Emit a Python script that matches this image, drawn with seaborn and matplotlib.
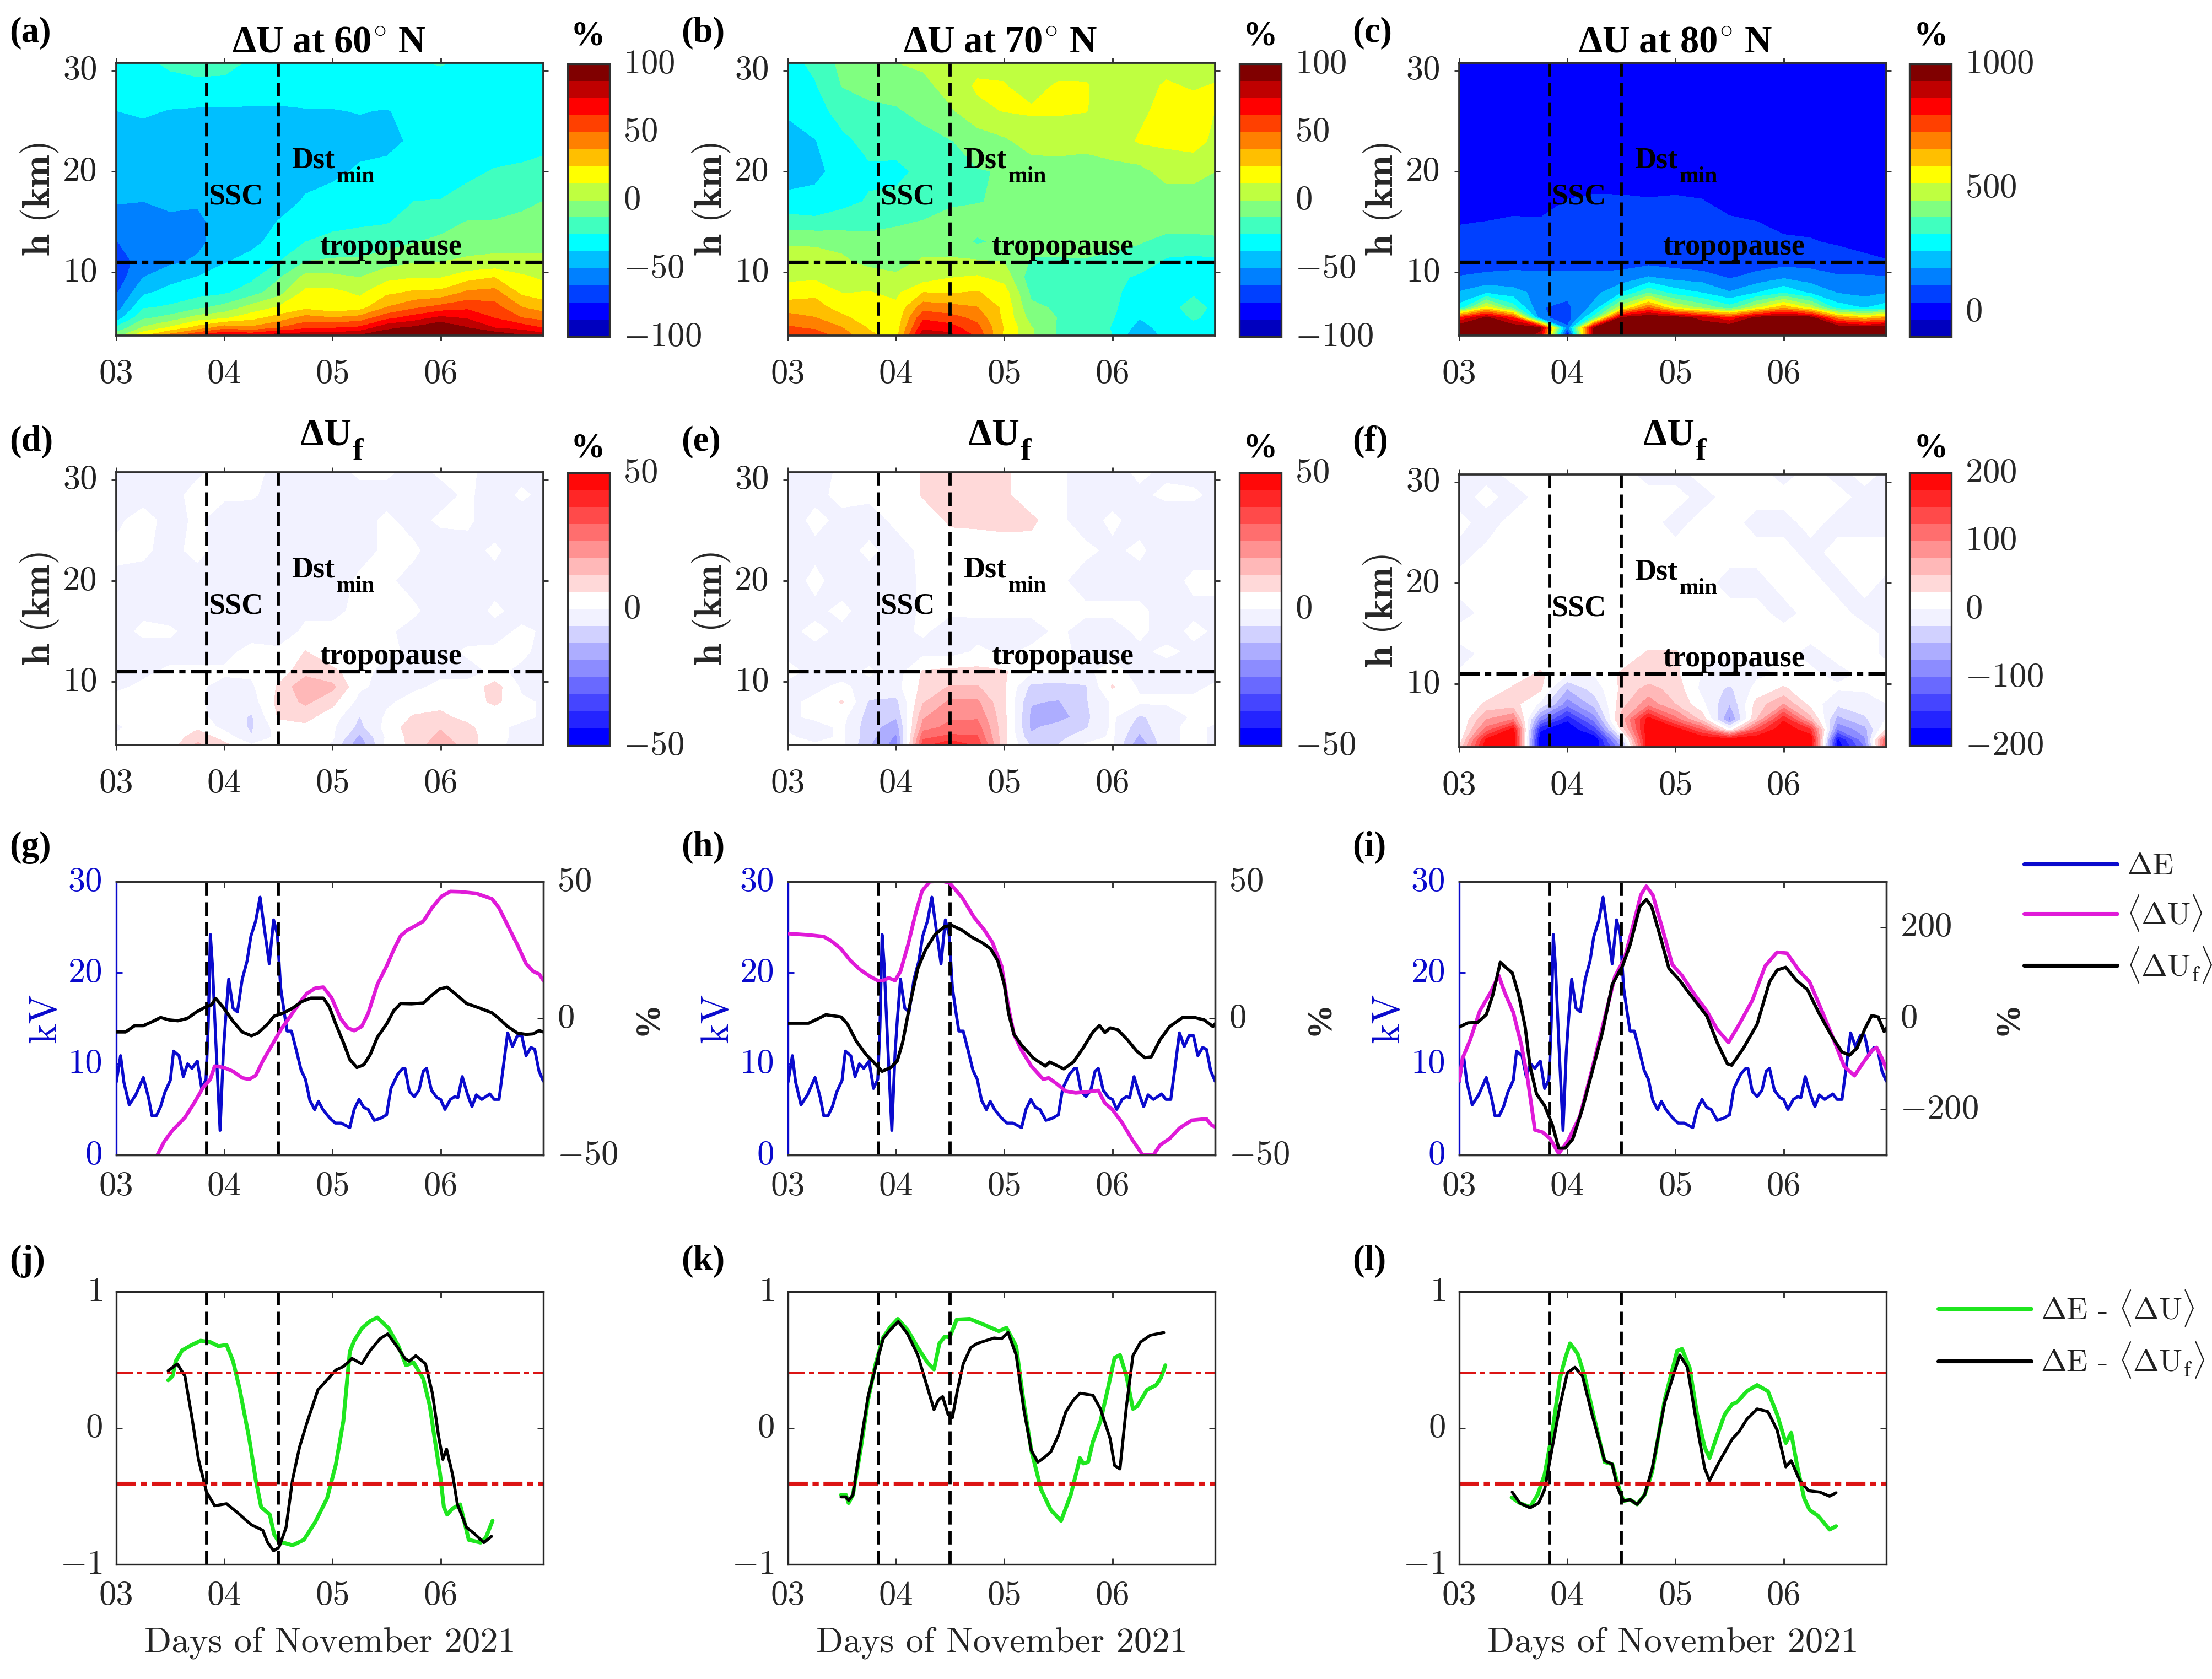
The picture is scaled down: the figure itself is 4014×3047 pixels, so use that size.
import numpy as np
import matplotlib
matplotlib.use('Agg')
import matplotlib.pyplot as plt
from matplotlib.transforms import ScaledTranslation
import seaborn as sns

sns.set_style('ticks')
plt.rcParams['font.family'] = ['cmr10', 'DejaVu Sans']
plt.rcParams['mathtext.fontset'] = 'cm'
plt.rcParams['axes.unicode_minus'] = False
plt.rcParams['axes.formatter.use_mathtext'] = True
plt.rcParams['text.color'] = '#202020'

W, H = 4014, 3047
BOLD = 'Liberation Serif'

# grid of the contour panels, one inner list per day position, bottom to top
days = [3.0, 3.25, 3.5, 3.75, 4.0, 4.25, 4.5, 4.75, 5.0, 5.25, 5.5, 5.75, 6.0, 6.25, 6.5, 6.75, 7.0]
heights = [3.7, 4.5, 5.5, 6.5, 8, 9.5, 11, 13, 15, 17, 20, 23, 26, 28.5, 30.8]

du60 = [
    [-5, -22, -45, -56, -64, -70, -72, -63, -56, -49, -45, -42, -37.5, -33, -30],
    [25, 2, -15, -26, -40, -50, -55, -56, -54, -50, -46, -42, -36, -31, -28],
    [45, 15, -8, -23, -33, -42, -52, -56, -53, -47, -44, -41, -38, -30, -22],
    [65, 30, 5, -15, -30, -37, -48, -53, -52, -49, -44, -42, -39, -28, -20],
    [80, 45, 10, -8, -27, -33, -38, -44, -46, -46, -45, -43, -39, -29, -20],
    [75, 40, 20, 5, -18, -28, -34, -40, -44, -46, -45, -43, -39, -31, -27],
    [85, 50, 30, 14, -5, -14, -25, -34, -37, -43, -46, -44, -39, -32, -27],
    [85, 60, 42, 22, 16, 4, -12, -25, -30, -36, -42, -42, -38, -33, -27],
    [85, 62, 38, 16, 16, 3, -10, -22, -28, -33, -40, -41, -38, -32, -27],
    [90, 65, 42, 20, 10, 0, -10, -20, -27, -32, -36, -41, -37, -31, -27],
    [95, 85, 58, 38, 22, 9, -5, -18, -26, -30, -35, -40, -38, -30, -27],
    [105, 90, 68, 48, 27, 12, -1, -13, -20, -25, -33, -36, -35, -30, -26],
    [115, 100, 78, 55, 28, 12, 0, -10, -17, -24, -36, -35, -33, -30, -24],
    [110, 88, 73, 60, 40, 20, 2, -5, -12, -20, -28, -34, -33, -30, -27],
    [100, 75, 62, 55, 42, 25, 3, -4, -12, -17, -24, -33, -32, -30, -28],
    [90, 70, 50, 38, 22, 15, 3, -4, -11, -14, -23, -30, -32, -30, -28],
    [80, 60, 45, 30, 18, 9, 2, -3, -9, -12, -21, -28, -32, -30, -26],
]
du70 = [
    [62, 52, 42, 32, 18, 10, 4, -1, -20, -33, -45, -44, -35, -30, -29],
    [58, 48, 38, 30, 22, 10, 3, -1, -22, -33, -41, -38, -30, -26, -22],
    [45, 38, 28, 20, 12, 6, 2, -3, -20, -28, -32, -28, -20, -12, -9],
    [28, 24, 18, 15, 13, 6, -3, -8, -17, -24, -27, -21, -15, -9, -4],
    [20, 18, 16, 15, 10, 2, -4, -8, -14, -22, -28, -20, -14, -6, 0],
    [85, 72, 60, 45, 25, 6, 2, -6, -12, -18, -22, -18, -8, -4, 3],
    [80, 68, 55, 42, 24, 12, 2, -6, -7, -15, -18, -13, -2, 6, 11],
    [60, 54, 46, 38, 26, 14, 2, -14, -8, -13, -13, -8, 10, 14, 9],
    [22, 24, 22, 22, 18, 8, 0, -10, -8, -11, -12, -2, 13, 13, 10],
    [2, 1, -5, -10, -15, -20, -14, -8, -6, -8, -6, 5, 14, 8, 6],
    [-14, -14, -13, -14, -20, -20, -14, -8, -6, -7, -5, 5, 14, 14, 6],
    [-13, -16, -13, -20, -21, -20, -14, -7, -7, -6, -6, 4, 13, 14, 5],
    [-25, -26, -24, -23, -22, -20, -14, -11, -8, -6, -3, 5, 8, 4, 4],
    [-50, -42, -37, -33, -31, -28, -16, -12, -8, -7, -4, 14, 9, 8, 6],
    [-33, -33, -30, -28, -32, -33, -28, -15, -9, -7, 5, 15, 18, 14, 8],
    [-32, -28, -24, -22, -26, -33, -30, -15, -9, -7, 5, 17, 18, 11, 8],
    [-33, -30, -28, -28, -30, -32, -28, -14, -9, -6, -1, 8, 11, 14, 6],
]
du80 = [
    [1000, 1000, 800, 270, 180, 110, 70, 50, 35, 15, 5, 5, 5, 5, 5],
    [1000, 1000, 950, 550, 230, 120, 80, 60, 38, 15, 5, 5, 5, 5, 5],
    [1000, 1000, 800, 350, 200, 125, 85, 65, 45, 18, 5, 5, 5, 5, 5],
    [900, 950, 130, 110, 150, 120, 85, 60, 42, 20, 5, 5, 5, 5, 5],
    [-40, 120, 60, 90, 125, 125, 75, 60, 50, 40, 10, 5, 5, 5, 5],
    [1000, 950, 350, 200, 150, 125, 75, 60, 50, 45, 15, 5, 5, 5, 5],
    [1000, 1000, 950, 500, 240, 130, 80, 65, 55, 45, 12, 5, 5, 5, 5],
    [1000, 1000, 1000, 720, 370, 180, 85, 55, 50, 42, 8, 5, 5, 5, 5],
    [1000, 1000, 980, 520, 280, 150, 75, 60, 55, 45, 10, 5, 5, 5, 5],
    [1000, 1000, 900, 430, 240, 140, 60, 58, 50, 40, 10, 5, 5, 5, 5],
    [1000, 1000, 800, 340, 180, 100, 60, 52, 45, 20, 5, 5, 5, 5, 5],
    [1000, 1000, 960, 500, 240, 130, 70, 50, 38, 12, 5, 5, 5, 5, 5],
    [1000, 1000, 1000, 640, 300, 165, 80, 45, 25, 8, 5, 5, 5, 5, 5],
    [1000, 1000, 970, 500, 230, 140, 80, 42, 20, 5, 5, 5, 5, 5, 5],
    [1000, 1000, 680, 280, 170, 115, 70, 30, 10, 5, 5, 5, 5, 5, 5],
    [1000, 970, 600, 240, 150, 115, 60, 10, 5, 5, 5, 5, 5, 5, 5],
    [1000, 1000, 680, 290, 175, 110, 40, 8, 5, 5, 5, 5, 5, 5, 5],
]
duf60 = [
    [1, 1, -1, 1, 2, -1, -1, -2, -2, -2, -1, 1, -1, -1, -2],
    [2, 2, 3, 2, 2, 1, -1, -2, 1, -1, -2, 1, 2, -2, -2],
    [3, 2, 2, 2, 2, 1, 1, -2, 1, -3, -3, -2, -2, -2, -2],
    [14, 10, 5, 2, 1, 1, 1, -2, -3, -4, -3, 2, 1, 2, -1],
    [8, 4, -2, -3, -3, -2, 1, -2, -3, -4, -4, -3, -3, 1, 2],
    [1, -6, -7, -7, -3, -1, 1, 2, -3, -4, -5, -4, -4, 1, 2],
    [1, 2, 3, 7, 8, 7, 3, 1, -3, -4, -5, -4, -4, -3, -2],
    [4, 6, 5, 8, 14, 18, 10, 6.5, 1, -1, -4, -4, -3, -3, -2],
    [-1, 1, 1, 3, 8, 14, 8, 1, 1, -1, -3, -3, -2, -3, -2],
    [-18, -14, -8, -6.5, -2, 1, 2, 1, 1, 1, 1, -2, -2, -2, 1],
    [2, 1, 2, 1, -1, -2, -2, 1, 1, 1, 1, 1, 1, -2, 1],
    [8, 9, 10, 7, 2, -1, -2, -1, -2, 1, -2, 1, -2, -2, -2],
    [18, 14, 12, 8, 4, 1, -1, -2, -3, -3, -3, -3, 1, -2, 1],
    [9, 9, 8, 4, 2, 2, -2, 1, -3, -3, -2, -2, 1, 1, 1],
    [2, 2, 1, 1, 8, 9, 1, 1, -2, 1, -2, 1, -3, -3, -2],
    [-3, -2, -1, 1, 1, -1, -1, 1, 1, -2, -2, -3, -3, 1, -2],
    [-3, -3, -2, -1, -1, -1, -1, -2, -1, -1, -1, -2, -2, -2, -2],
]
duf70 = [
    [1, 1, -1, -1, -1, -1, 1, -1, -1, -2, -2, -2, -2, -1, -1],
    [1, -2, -2, 1, 1, -1, -1, -1, 1, -1, 1, -1, 1, -1, -2],
    [1, 1, 1, 2, 7, 1, -2, -1, -1, 1, -2, -2, -1, 1, 1],
    [-12, -10, -10, -9, -7, -2, 1, -3, -2, -2, -2, 1, -2, 1, 1],
    [-22, -20, -16, -12, -8, -2, -3, -3, -2, -3, -3, -2, 1, 1, 1],
    [35, 30, 22, 18, 12, 8, 7, -2, 1, 1, 1, 1, 2, 7, 7],
    [45, 33, 27, 24, 20, 13, 8, -3, -3, 1, 1, 2, 7.5, 8, 8],
    [36, 32, 28, 24, 20, 13, 8, 1, -2, 1, 1, 2, 8, 8, 8],
    [8, 8, 8, 8, 7, 7, 7, -1, -2, 1, 1, 2, 9, 8, 8],
    [-7, -11, -14, -14, -12, -8, 1, 1, -2, 1, 1, 3, 8, 1, 1],
    [-6, -8, -9, -16, -13, -9, 1, 1, 1, 1, 1, 1, 1, 1, 1],
    [1, -3, -7, -8, -7, -7, -1, -1, -2, 1, -2, 1, -2, -2, -2],
    [1, 1, 1, 1, 1, 7, 2, -2, -2, 1, -2, -1, 1, -2, -2],
    [-18, -14, -10, -7, 1, -1, -2, -1, 1, 1, -2, 1, -2, -1, 1],
    [-1, -1, -1, -4, 1, -1, -2, 1, -2, -2, -2, -3, -3, 1, -1],
    [1, 1, 1, 1, 1, -1, -1, -1, 1, -1, 1, -2, -3, 1, -2],
    [-1, -1, -1, 1, 1, 1, -1, -1, -1, -1, 1, -2, -2, -2, -2],
]
duf80 = [
    [30, 8, -3, -3, 1, 1, 1, -3, 3, -3, 3, -3, 3, -4, -3],
    [200, 180, 110, 75, 30, 5, 1, 2, 3, 2, 3, 2, -4, 3, -3],
    [220, 200, 185, 100, 35, 30, 8, 2, 3, 3, 3, 2, 3, -4, 3],
    [-220, -210, -170, -90, -5, 30, 30, 3, 3, 2, 3, 3, 3, 3, 3],
    [-260, -240, -210, -170, -90, -50, 2, 3, 3, 3, 3, 3, 3, 3, 3],
    [-230, -200, -140, -90, -40, -15, 2, 3, 3, 2, 3, 3, 3, 2, 3],
    [-80, -40, 30, 60, 40, 30, 30, 3, 3, 2, 3, 3, 3, 3, 3],
    [250, 250, 220, 190, 90, 60, 30, 30, 3, 3, 3, 3, 3, 3, -3],
    [250, 230, 190, 110, 50, 40, 30, 30, 3, 3, 3, 3, -3, 3, -3],
    [250, 210, 120, 40, 6, -8, -3, 2, 3, 3, 3, 3, 3, -3, 3],
    [250, 190, 5, -80, -50, -30, -5, 2, 3, 3, -3, 3, 3, 3, 3],
    [250, 200, 130, 50, 35, 8, -5, 2, 3, 3, -3, 3, -3, 3, 3],
    [250, 230, 215, 170, 75, 30, 3, 3, 3, -3, 3, 3, -3, 3, -3],
    [230, 200, 150, 60, 15, 3, 2, -3, 3, 3, 3, -3, 3, 3, 3],
    [-230, -180, -100, -60, -20, 2, -3, 3, 3, 3, -3, 3, -3, 3, -3],
    [-100, -80, -60, -30, -10, 2, 2, 3, 3, -3, 3, 3, -3, -3, 3],
    [200, 180, 50, 10, 2, 2, 2, -3, -3, -3, -3, 3, -3, -3, -3],
]

# delta E, shared by panels g, h, i
de_day = [3.0, 3.04, 3.07, 3.12, 3.18, 3.25, 3.3, 3.33, 3.37, 3.41, 3.45, 3.5, 3.53, 3.58, 3.62, 3.66, 3.7, 3.75, 3.79,
          3.83, 3.85, 3.87, 3.89, 3.92, 3.96, 3.99, 4.01, 4.04, 4.08, 4.12, 4.165, 4.21, 4.245, 4.29, 4.33, 4.37, 4.415,
          4.455, 4.49, 4.52, 4.555, 4.58, 4.62, 4.665, 4.71, 4.75, 4.79, 4.835, 4.87, 4.91, 4.97, 5.025, 5.08, 5.16,
          5.2, 5.245, 5.29, 5.33, 5.385, 5.44, 5.5, 5.54, 5.605, 5.65, 5.67, 5.71, 5.755, 5.8, 5.84, 5.87, 5.915, 5.965,
          6.0, 6.04, 6.09, 6.13, 6.16, 6.2, 6.25, 6.29, 6.33, 6.38, 6.455, 6.495, 6.54, 6.58, 6.62, 6.665, 6.71, 6.75,
          6.79, 6.835, 6.87, 6.91, 6.95]
de_kv = [8.0, 10.9, 8.0, 5.5, 6.6, 8.5, 6.2, 4.3, 4.3, 5.3, 6.9, 8.2, 11.4, 10.9, 8.6, 10.0, 9.5, 10.3, 7.3,
         8.3, 14.0, 24.2, 20.7, 12.6, 2.7, 11.2, 14.7, 19.3, 16.1, 15.7, 19.3, 21.3, 24.0, 25.7, 28.3, 24.8, 21.0,
         25.8, 24.2, 18.4, 15.5, 13.6, 13.6, 11.5, 9.3, 8.3, 6.0, 4.98, 5.9, 5.0, 4.1, 3.5, 3.5, 3.0,
         5.0, 6.1, 5.2, 5.0, 3.8, 4.0, 4.4, 7.3, 8.9, 9.5, 9.5, 7.0, 6.4, 7.1, 9.2, 9.5, 7.1, 6.3,
         6.1, 5.0, 6.1, 6.4, 6.3, 8.6, 6.6, 5.3, 6.6, 6.1, 6.7, 6.1, 6.1, 9.7, 13.4, 11.9, 13.1, 13.1,
         10.9, 11.8, 11.6, 9.2, 8.1]

# panel g
g_u_day = [3.38, 3.445, 3.52, 3.635, 3.72, 3.805, 3.87, 3.91, 3.995, 4.08, 4.165, 4.23, 4.29, 4.355, 4.44, 4.525, 4.61,
           4.695, 4.76, 4.84, 4.915, 4.99, 5.075, 5.14, 5.2, 5.27, 5.33, 5.415, 5.5, 5.565, 5.63, 5.69, 5.755, 5.84, 5.92,
           6.01, 6.09, 6.18, 6.33, 6.475, 6.54, 6.62, 6.71, 6.79, 6.855, 6.91, 6.95]
g_u = [-50, -45, -41, -36.3, -31, -25.2, -22.3, -17.5, -18, -19.4, -21.8, -22.3, -20.9, -15.6, -9.8, -4, 0.8,
       5.6, 9, 11, 11.4, 7.6, -0.1, -3.5, -4.5, -3, 1.8, 12.4, 19.1, 25, 30.2, 32.2, 33.6, 35.5, 40.4,
       44.7, 46.4, 46.3, 45.7, 43.7, 40.4, 34, 26.9, 20, 17.2, 16.2, 13.9]
g_uf_day = [3.0, 3.085, 3.17, 3.25, 3.34, 3.41, 3.49, 3.57, 3.66, 3.74, 3.83, 3.88, 3.92, 3.995, 4.08, 4.165, 4.25, 4.31,
            4.4, 4.46, 4.55, 4.63, 4.715, 4.8, 4.915, 4.97, 5.03, 5.1, 5.16, 5.225, 5.29, 5.35, 5.415, 5.5, 5.565, 5.63,
            5.73, 5.84, 5.92, 5.99, 6.06, 6.135, 6.24, 6.35, 6.475, 6.54, 6.62, 6.71, 6.79, 6.855, 6.91, 6.95]
g_uf = [-5, -5, -2.7, -2.7, -1.1, 0.3, -0.6, -0.9, 0, 2.3, 4.2, 4.9, 7.3, 3.7, -1.1, -5, -6.4, -5.4,
        -2.1, 0.8, 2, 3.7, 6.1, 7.4, 7.4, 4.2, -2.1, -8.8, -15.1, -18, -17, -13.2, -6.9, -2.1, 2.7, 5.4,
        5.3, 5.6, 8.5, 10.7, 11.4, 9, 5.4, 3.9, 2, -0.1, -3, -5.4, -5.9, -5.7, -4.5, -5]

# panel h
h_u_day = [3.0, 3.19, 3.33, 3.4, 3.49, 3.58, 3.67, 3.76, 3.83, 3.88, 3.93, 3.99, 4.04, 4.11, 4.18, 4.24, 4.31, 4.43, 4.495,
           4.61, 4.72, 4.81, 4.89, 4.975, 5.04, 5.09, 5.16, 5.25, 5.36, 5.41, 5.48, 5.57, 5.66, 5.75, 5.87, 5.93, 6.0,
           6.09, 6.185, 6.28, 6.38, 6.44, 6.53, 6.62, 6.735, 6.87, 6.92, 6.95]
h_u = [31, 30.5, 29.9, 28.3, 25.4, 21, 17.7, 15.3, 13.8, 13.8, 14.8, 13.8, 17.2, 26.9, 38.4, 46.6, 50, 50.2, 49.5,
       44.2, 37, 32.6, 27.8, 19.1, 3.7, -5.9, -11.7, -17.5, -22.3, -21.8, -23.8, -26.7, -27.3, -27, -26.4, -31, -33.4,
       -38.2, -44.5, -50, -50, -46.4, -44, -40.2, -37.3, -36.8, -39.2, -39.7]
h_uf_day = [3.0, 3.19, 3.28, 3.35, 3.49, 3.55, 3.63, 3.72, 3.79, 3.87, 3.95, 4.01, 4.06, 4.13, 4.2, 4.27, 4.36, 4.45, 4.52,
            4.61, 4.7, 4.79, 4.875, 4.94, 5.0, 5.04, 5.09, 5.16, 5.27, 5.38, 5.42, 5.55, 5.64, 5.73, 5.82, 5.88, 5.93,
            5.98, 6.05, 6.14, 6.23, 6.3, 6.36, 6.44, 6.53, 6.65, 6.76, 6.85, 6.93, 6.95]
h_uf = [-1.8, -1.8, -0.1, 1.3, 0.5, -2.1, -8.3, -13.2, -16, -19.4, -18, -15.6, -8.8, 5.6, 18.2, 24.9, 30.7, 33.6, 33.9,
        32.2, 29.7, 27.8, 25.4, 21, 12.4, 1.8, -5.9, -9.8, -14.6, -17.5, -16, -18.5, -16, -10.8, -5, -2.6, -5.2,
        -3.5, -4.2, -7.9, -12.2, -14.4, -14.1, -7.9, -3, 0.3, 0.3, -0.6, -3, -2]

# panel i
i_u_day = [3.0, 3.03, 3.1, 3.19, 3.29, 3.365, 3.42, 3.5, 3.575, 3.63, 3.7, 3.77, 3.84, 3.92, 4.0, 4.115, 4.23, 4.35, 4.44,
           4.53, 4.6, 4.68, 4.73, 4.79, 4.88, 4.97, 5.06, 5.18, 5.29, 5.385, 5.49, 5.59, 5.71, 5.83, 5.94, 6.03, 6.15, 6.24,
           6.355, 6.445, 6.56, 6.655, 6.72, 6.815, 6.86, 6.91, 6.95]
i_u = [-137, -88, -48, 16, 57, 94, 57, 13, -59, -129, -245, -250, -264, -297, -271, -216, -111, 5, 92,
       132, 196, 271, 290, 271, 196, 118, 94, 51, 16, -24, -53, -13, 39, 115, 145, 143, 103, 80,
       16, -36, -105, -126, -103, -71, -64, -88, -111]
i_uf_day = [3.0, 3.08, 3.17, 3.25, 3.31, 3.38, 3.42, 3.49, 3.55, 3.61, 3.655, 3.715, 3.79, 3.86, 3.92, 3.98, 4.05, 4.14,
            4.23, 4.325, 4.415, 4.51, 4.58, 4.67, 4.73, 4.78, 4.86, 4.94, 5.03, 5.14, 5.29, 5.385, 5.48, 5.52, 5.63, 5.755,
            5.87, 5.94, 6.02, 6.12, 6.22, 6.33, 6.445, 6.54, 6.61, 6.68, 6.75, 6.815, 6.875, 6.93, 6.95]
i_uf = [-19, -10, -9, 8, 51, 123, 114, 100, 51, -19, -105, -166, -192, -233, -285, -285, -265, -198,
        -117, -30, 74, 115, 161, 245, 261, 245, 179, 109, 86, 51, 5, -53, -100, -103, -65, -13,
        80, 106, 112, 83, 63, 10, -39, -74, -81, -65, -24, 6, 3, -29, -21]

# panel j
j_u_day = [3.48, 3.52, 3.55, 3.61, 3.7, 3.78, 3.87, 3.945, 4.02, 4.08, 4.14, 4.23, 4.29, 4.34, 4.42, 4.46, 4.5, 4.63, 4.735,
           4.84, 4.95, 5.03, 5.1, 5.16, 5.2, 5.27, 5.35, 5.415, 5.52, 5.61, 5.68, 5.75, 5.84, 5.9, 5.945, 5.995, 6.03, 6.06,
           6.11, 6.18, 6.26, 6.37, 6.42, 6.48]
j_u = [0.35, 0.38, 0.49, 0.57, 0.61, 0.64, 0.63, 0.6, 0.61, 0.49, 0.29, -0.08, -0.38, -0.58, -0.635, -0.78, -0.83, -0.86, -0.82,
       -0.69, -0.515, -0.27, 0.05, 0.56, 0.64, 0.73, 0.785, 0.81, 0.73, 0.6, 0.46, 0.48, 0.36, 0.16, -0.08, -0.34, -0.58, -0.635,
       -0.59, -0.56, -0.82, -0.84, -0.8, -0.68]
j_uf_day = [3.48, 3.565, 3.635, 3.7, 3.76, 3.835, 3.91, 4.02, 4.12, 4.25, 4.355, 4.4, 4.455, 4.505, 4.57, 4.63, 4.695, 4.76,
            4.865, 4.97, 5.03, 5.1, 5.18, 5.27, 5.35, 5.44, 5.51, 5.585, 5.67, 5.71, 5.77, 5.86, 5.925, 5.98, 6.02, 6.055,
            6.11, 6.155, 6.24, 6.305, 6.4, 6.47]
j_uf = [0.42, 0.47, 0.38, 0.075, -0.23, -0.47, -0.57, -0.555, -0.62, -0.71, -0.75, -0.84, -0.9, -0.875, -0.73, -0.38, -0.14, 0.03,
        0.28, 0.37, 0.425, 0.45, 0.51, 0.47, 0.57, 0.655, 0.69, 0.61, 0.51, 0.49, 0.53, 0.47, 0.25, -0.055, -0.23, -0.155,
        -0.34, -0.56, -0.73, -0.77, -0.84, -0.795]

# panel k
k_u_day = [3.49, 3.535, 3.56, 3.6, 3.67, 3.74, 3.81, 3.88, 3.945, 4.015, 4.105, 4.2, 4.29, 4.35, 4.4, 4.45, 4.495, 4.56, 4.68,
           4.79, 4.95, 5.02, 5.11, 5.18, 5.25, 5.34, 5.43, 5.525, 5.615, 5.7, 5.73, 5.775, 5.82, 5.89, 5.96, 6.02, 6.07, 6.13,
           6.19, 6.23, 6.32, 6.405, 6.45, 6.49]
k_u = [-0.49, -0.49, -0.55, -0.49, -0.165, 0.205, 0.47, 0.665, 0.74, 0.8, 0.72, 0.59, 0.48, 0.43, 0.62, 0.67, 0.665, 0.795, 0.8,
       0.765, 0.71, 0.735, 0.6, 0.185, -0.165, -0.45, -0.6, -0.68, -0.49, -0.22, -0.26, -0.25, -0.1, 0.05, 0.295, 0.515, 0.535, 0.38,
       0.14, 0.16, 0.28, 0.315, 0.37, 0.46]
k_uf_day = [3.49, 3.535, 3.56, 3.6, 3.67, 3.74, 3.81, 3.88, 3.945, 4.02, 4.105, 4.2, 4.29, 4.35, 4.39, 4.43, 4.48, 4.52, 4.565,
            4.62, 4.69, 4.75, 4.905, 4.975, 5.035, 5.11, 5.18, 5.25, 5.31, 5.365, 5.43, 5.5, 5.57, 5.64, 5.7, 5.82, 5.89, 5.98,
            6.02, 6.07, 6.13, 6.19, 6.26, 6.35, 6.475]
k_uf = [-0.505, -0.505, -0.53, -0.49, -0.12, 0.23, 0.45, 0.655, 0.72, 0.78, 0.69, 0.535, 0.295, 0.135, 0.205, 0.23, 0.1, 0.075, 0.27,
        0.47, 0.59, 0.62, 0.66, 0.655, 0.7, 0.535, 0.14, -0.165, -0.25, -0.22, -0.175, -0.055, 0.12, 0.205, 0.255, 0.24, 0.14, -0.08,
        -0.275, -0.3, 0.16, 0.53, 0.63, 0.68, 0.7]

# panel l
l_u_day = [3.485, 3.56, 3.655, 3.725, 3.79, 3.86, 3.93, 3.98, 4.025, 4.095, 4.16, 4.255, 4.345, 4.415, 4.485, 4.52, 4.58, 4.645,
           4.715, 4.785, 4.9, 5.015, 5.06, 5.13, 5.2, 5.27, 5.315, 5.385, 5.455, 5.525, 5.57, 5.66, 5.755, 5.855, 5.94, 6.02, 6.07,
           6.125, 6.19, 6.24, 6.32, 6.425, 6.485]
l_u = [-0.51, -0.55, -0.58, -0.49, -0.34, -0.035, 0.36, 0.51, 0.62, 0.545, 0.38, 0.05, -0.25, -0.265, -0.46, -0.535, -0.525, -0.56,
       -0.49, -0.32, 0.205, 0.565, 0.58, 0.445, 0.1, -0.14, -0.22, -0.055, 0.1, 0.175, 0.19, 0.27, 0.315, 0.27, 0.1, -0.11, -0.035,
       -0.275, -0.515, -0.6, -0.645, -0.745, -0.72]
l_uf_day = [3.49, 3.56, 3.655, 3.735, 3.79, 3.86, 3.93, 4.0, 4.07, 4.14, 4.23, 4.345, 4.415, 4.46, 4.52, 4.58, 4.645, 4.715, 4.785,
            4.9, 5.04, 5.11, 5.2, 5.27, 5.315, 5.41, 5.525, 5.59, 5.66, 5.755, 5.855, 5.94, 6.02, 6.07, 6.15, 6.23, 6.335, 6.425, 6.485]
l_uf = [-0.47, -0.55, -0.585, -0.55, -0.45, -0.145, 0.16, 0.405, 0.445, 0.38, 0.095, -0.24, -0.265, -0.43, -0.535, -0.525, -0.56, -0.49, -0.295,
        0.185, 0.535, 0.445, 0.01, -0.295, -0.385, -0.24, -0.08, -0.025, 0.065, 0.14, 0.12, -0.015, -0.285, -0.24, -0.385, -0.46, -0.47, -0.5, -0.475]

jet16 = [(0, 0, .75), (0, 0, 1), (0, .25, 1), (0, .5, 1), (0, .75, 1), (0, 1, 1), (.25, 1, .75), (.5, 1, .5),
         (.75, 1, .25), (1, 1, 0), (1, .75, 0), (1, .5, 0), (1, .25, 0), (1, 0, 0), (.75, 0, 0), (.5, 0, 0)]
bwr16 = [(0, 0, 1), (.14, .14, 1), (.27, .27, 1), (.41, .41, 1), (.55, .55, 1), (.68, .68, 1), (.82, .82, 1), (.95, .95, 1),
         (1, 1, 1), (1, .85, .85), (1, .72, .72), (1, .57, .57), (1, .43, .43), (1, .29, .29), (1, .15, .15), (1, .03, .03)]

SSC, DST = 3.835, 4.5
col_left = [211, 1430, 2648]
col_width = 775
cbar_left = [1030, 2249, 3465]
BLUE, MAGENTA, GREEN, RED = '#0a0acd', '#e01ad8', '#1fe61f', '#dc1414'


def add_ax(left, top, width, height):
    return fig.add_axes([left / W, 1 - (top + height) / H, width / W, height / H])


def put(x, y, s, **kw):
    fig.text(x / W, 1 - y / H, s, **kw)


def lift_labels(ax):
    # tick labels sit a few pixels above their ticks in the reference
    off = ScaledTranslation(0, 5 / 300, fig.dpi_scale_trans)
    for lab in ax.get_yticklabels():
        lab.set_transform(lab.get_transform() + off)


def style_days(ax):
    ax.set_xlim(3, 6.95)
    ax.set_xticks([3, 4, 5, 6])
    ax.set_xticklabels(['03', '04', '05', '06'], fontsize=15)
    ax.set_xlabel('')
    ax.set_ylabel('')


def events(ax):
    ax.axvline(SSC, color='k', lw=1.4, ls=(0, (4.2, 2.0)))
    ax.axvline(DST, color='k', lw=1.4, ls=(0, (4.2, 2.0)))


def contour_panel(values, left, top, vmin, vmax, colors, ticks, tick_labels, cb_left, cb_top):
    ax = add_ax(left, top, col_width, 495)
    z = np.clip(np.array(values, dtype=float).T, vmin + 0.01, vmax - 0.01)
    levels = np.linspace(vmin, vmax, 17)
    cf = ax.contourf(days, heights, z, levels=levels, colors=colors)
    ax.set_ylim(3.73, 30.75)
    ax.set_yticks([10, 20, 30])
    ax.set_yticklabels(['10', '20', '30'], fontsize=15)
    style_days(ax)
    ax.tick_params(top=True, right=True, direction='out', length=2.2, width=0.7, color='#303030', labelcolor='#202020')
    ax.tick_params(axis='x', pad=8)
    ax.tick_params(axis='y', pad=6)
    for sp in ax.spines.values():
        sp.set_visible(True)
        sp.set_linewidth(0.9)
        sp.set_color('#303030')
    events(ax)
    ax.axhline(11, color='k', lw=1.5, ls=(0, (6, 1.5, 1.8, 1.5)))
    bold = dict(family=BOLD, fontweight='bold', fontsize=13, color='k', va='baseline')
    ax.text(3.85, 16.75, 'SSC', **bold)
    ax.text(4.62, 20.35, 'Dst', **bold)
    ax.text(5.04, 18.9, 'min', **{**bold, 'fontsize': 10})
    ax.text(4.88, 11.75, 'tropopause', **bold)
    ax.set_ylabel(r'$\mathbf{h\ (km)}$', fontsize=17, labelpad=1)
    lift_labels(ax)

    cax = add_ax(cb_left, cb_top, 76, 495)
    cb = fig.colorbar(cf, cax=cax, ticks=ticks)
    cb.ax.set_yticklabels(tick_labels, fontsize=15)
    cb.ax.tick_params(direction='in', length=1.5, width=0.6, pad=6, right=True)
    cb.outline.set_linewidth(0.8)
    cb.outline.set_edgecolor('#303030')
    lift_labels(cb.ax)
    return ax


def line_axes(left, top, height):
    ax = add_ax(left, top, col_width, height)
    sns.despine(ax=ax, top=False, right=False)
    ax.tick_params(top=True, direction='in', length=2.6, width=0.7, color='#303030')
    ax.tick_params(axis='x', pad=7)
    return ax


def draw(ax, x, y, color, lw, label=None):
    return sns.lineplot(x=x, y=y, color=color, lw=lw, estimator=None, sort=False, ax=ax, label=label, legend=False)


fig = plt.figure(figsize=(W / 300, H / 300), dpi=300)

# row 1 and row 2, contours
pos50 = [-100, -50, 0, 50, 100]
lab50 = ['$-100$', '$-50$', '$0$', '$50$', '$100$']
contour_panel(du60, col_left[0], 114, -100, 100, jet16, pos50, lab50, cbar_left[0], 116)
contour_panel(du70, col_left[1], 114, -100, 100, jet16, pos50, lab50, cbar_left[1], 116)
contour_panel(du80, col_left[2], 114, -100, 1000, jet16, [0, 500, 1000], ['$0$', '$500$', '$1000$'], cbar_left[2], 116)
contour_panel(duf60, col_left[0], 857, -50, 50, bwr16, [-50, 0, 50], ['$-50$', '$0$', '$50$'], cbar_left[0], 858)
contour_panel(duf70, col_left[1], 857, -50, 50, bwr16, [-50, 0, 50], ['$-50$', '$0$', '$50$'], cbar_left[1], 858)
contour_panel(duf80, col_left[2], 861, -200, 200, bwr16, [-200, -100, 0, 100, 200],
              ['$-200$', '$-100$', '$0$', '$100$', '$200$'], cbar_left[2], 858)

titles = [('ΔU at 60$^{\\circ}$ N', 597), ('ΔU at 70$^{\\circ}$ N', 1815), ('ΔU at 80$^{\\circ}$ N', 3040)]
for s, x in titles:
    put(x, 96, s, family=BOLD, fontweight='bold', fontsize=16.5, ha='center', va='baseline', color='k')
for x in [603, 1815, 3040]:
    put(x - 12, 808, 'ΔU', family=BOLD, fontsize=16.5, fontweight='bold', ha='center', va='baseline', color='k')
    put(x + 46, 835, 'f', family=BOLD, fontsize=14, fontweight='bold', ha='center', va='baseline', color='k')
for x in [1067, 2287, 3504]:
    put(x, 67, '%', family=BOLD, fontweight='bold', fontsize=15, ha='center', va='center', color='k')
    put(x, 815, '%', family=BOLD, fontweight='bold', fontsize=15, ha='center', va='center', color='k')

# row 3, delta E against the winds
row3 = [(g_u_day, g_u, g_uf_day, g_uf, (-50, 50), [-50, 0, 50]),
        (h_u_day, h_u, h_uf_day, h_uf, (-50, 50), [-50, 0, 50]),
        (i_u_day, i_u, i_uf_day, i_uf, (-300, 300), [-200, 0, 200])]
for left, (u_day, u, uf_day, uf, ylim, yticks) in zip(col_left, row3):
    ax = line_axes(left, 1600, 496)
    draw(ax, de_day, de_kv, BLUE, 1.3, r'$\Delta\mathrm{E}$')
    ax.set_ylim(0, 30)
    ax.set_yticks([0, 10, 20, 30])
    ax.set_yticklabels(['0', '10', '20', '30'], fontsize=15, color=BLUE)
    style_days(ax)
    ax.tick_params(axis='y', colors=BLUE, pad=6, right=False)
    ax.spines['left'].set_color(BLUE)
    ax.set_ylabel('kV', fontsize=17, color=BLUE, labelpad=2)
    events(ax)
    lift_labels(ax)
    ax2 = ax.twinx()
    draw(ax2, u_day, u, MAGENTA, 1.6, r'$\langle\Delta\mathrm{U}\rangle$')
    draw(ax2, uf_day, uf, 'k', 1.4, r'$\langle\Delta\mathrm{U_f}\rangle$')
    ax2.set_ylim(*ylim)
    ax2.set_yticks(yticks)
    ax2.set_yticklabels([f'${v}$' for v in yticks], fontsize=15)
    ax2.set_xlim(3, 6.95)
    ax2.set_xlabel('')
    ax2.set_ylabel('%', family=BOLD, fontweight='bold', fontsize=15, labelpad=6)
    ax2.tick_params(axis='y', direction='in', length=2.6, width=0.7, pad=6)
    ax2.spines['left'].set_visible(False)
    for sp in ['top', 'right', 'bottom']:
        ax2.spines[sp].set_color('#303030')
    lift_labels(ax2)

h1, l1 = ax.get_legend_handles_labels()
h2, l2 = ax2.get_legend_handles_labels()
leg = fig.legend(h1 + h2, l1 + l2, loc='upper left', bbox_to_anchor=(3673 / W, 1 - 1548 / H), frameon=False, fontsize=13.5,
                 handlelength=3.0, handletextpad=0.3, labelspacing=0.4, borderpad=0, borderaxespad=0)
for line in leg.get_lines():
    line.set_linewidth(1.7)

# row 4, correlations
row4 = [(j_u_day, j_u, j_uf_day, j_uf), (k_u_day, k_u, k_uf_day, k_uf), (l_u_day, l_u, l_uf_day, l_uf)]
for left, (u_day, u, uf_day, uf) in zip(col_left, row4):
    ax = line_axes(left, 2344, 495)
    ax.tick_params(right=True)
    draw(ax, u_day, u, GREEN, 1.7, r'$\Delta\mathrm{E}$ - $\langle\Delta\mathrm{U}\rangle$')
    draw(ax, uf_day, uf, 'k', 1.3, r'$\Delta\mathrm{E}$ - $\langle\Delta\mathrm{U_f}\rangle$')
    ax.axhline(0.405, color=RED, lw=1.2, ls=(0, (6, 1.5, 1.8, 1.5)))
    ax.axhline(-0.405, color=RED, lw=1.7, ls=(0, (5, 1.2, 1.6, 1.2)))
    events(ax)
    ax.set_ylim(-1, 1)
    ax.set_yticks([-1, 0, 1])
    ax.set_yticklabels(['$-1$', '$0$', '$1$'], fontsize=15)
    style_days(ax)
    ax.tick_params(axis='y', pad=6)
    ax.set_xlabel('Days of November 2021', fontsize=15.5, labelpad=7)
    lift_labels(ax)

h1, l1 = ax.get_legend_handles_labels()
leg = fig.legend(h1[:2], l1[:2], loc='upper left', bbox_to_anchor=(3517 / W, 1 - 2338 / H), frameon=False, fontsize=13.5,
                 handlelength=3.0, handletextpad=0.3, labelspacing=0.4, borderpad=0, borderaxespad=0)
for line in leg.get_lines():
    line.set_linewidth(1.7)

# panel letters
letters = ['(a)', '(b)', '(c)', '(d)', '(e)', '(f)', '(g)', '(h)', '(i)', '(j)', '(k)', '(l)']
rows_y = [60, 802, 1538, 2289]
for n, s in enumerate(letters):
    put([17, 1236, 2454][n % 3], rows_y[n // 3], s, family=BOLD, fontweight='bold', fontsize=15.5, ha='left', va='center', color='k')

fig.savefig('out.png', dpi=300)
